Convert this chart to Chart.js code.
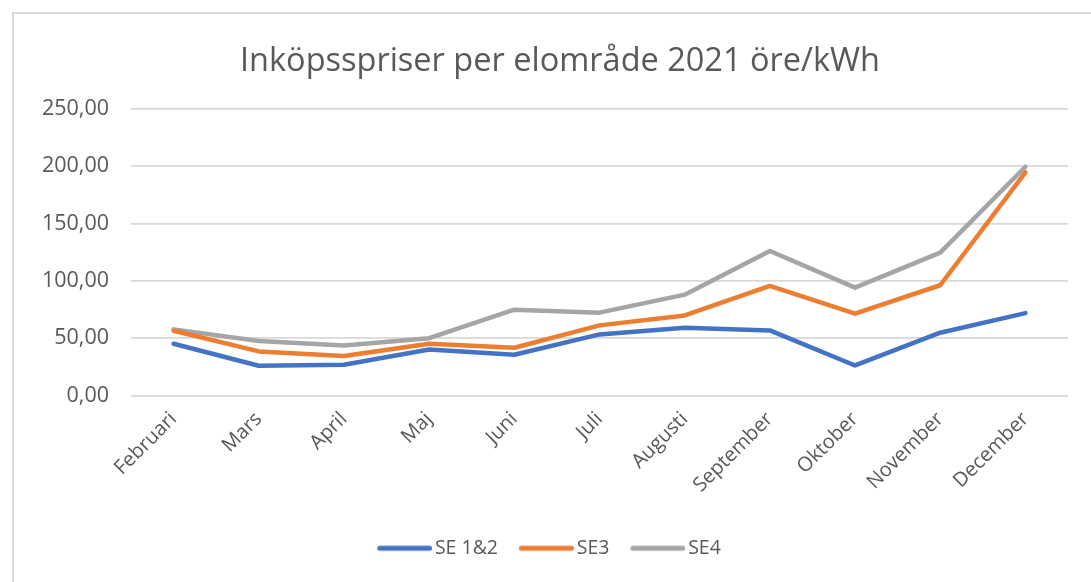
<!DOCTYPE html>
<html>
<head>
<meta charset="utf-8">
<script src="https://cdn.jsdelivr.net/npm/chart.js@4.4.1/dist/chart.umd.min.js"></script>
<style>
  html, body { margin: 0; padding: 0; background: #fff; overflow: hidden; }
  #frame {
    position: absolute; left: 12px; top: 12px; width: 1200px; height: 700px;
    border-left: 2px solid #d9d9d9; border-top: 2px solid #d9d9d9;
  }
  #wrap { position: absolute; left: 0; top: 0; width: 1120px; height: 582px; }
</style>
</head>
<body>
<div id="frame"></div>
<div id="wrap"><canvas id="priceChart"></canvas></div>
<script>
// månader och priser (öre/kWh)
const months = ["Februari", "Mars", "April", "Maj", "Juni", "Juli", "Augusti", "September", "Oktober", "November", "December"];
const se12 = [45.2, 26.0, 26.8, 40.2, 35.6, 53.3, 59.2, 56.8, 26.2, 54.8, 71.9];
const se3  = [56.5, 38.5, 34.4, 45.2, 41.7, 61.2, 69.9, 95.6, 71.4, 96.2, 194.7];
const se4  = [57.7, 47.5, 43.7, 50.0, 74.9, 72.3, 88.0, 126.1, 94.1, 124.7, 199.6];
const yTicks = [0, 50, 100, 150, 200, 250];

const textColor = '#595959';
const gridColor = '#d9d9d9';
const fontFam = '"Open Sans", "DejaVu Sans", sans-serif';

// legend symbol: a short thick line, drawn a bit wider than the box so the text sits close
function legendLine(color) {
    const c = document.createElement('canvas');
    c.width = 62;
    c.height = 8;
    const g = c.getContext('2d');
    g.strokeStyle = color;
    g.lineWidth = 5;
    g.lineCap = 'round';
    g.beginPath();
    g.moveTo(9.5, 4);
    g.lineTo(59.5, 4);
    g.stroke();
    return c;
}

function lineSet(label, values, color) {
    return {
        label: label,
        data: values,
        borderColor: color,
        backgroundColor: color,
        borderWidth: 4.5,
        borderCapStyle: 'round',
        borderJoinStyle: 'round',
        pointRadius: 0,
        pointHoverRadius: 0,
        pointStyle: legendLine(color),
        tension: 0,
        fill: false
    };
}

// excel centres the title over the frame, not over the canvas - nudge it right a bit
const titleShift = {
    id: 'titleShift',
    afterLayout: function (chart) {
        if (chart.titleBlock) chart.titleBlock.left += 22;
    }
};

const ctx = document.getElementById('priceChart');

new Chart(ctx, {
    type: 'line',
    data: {
        labels: months,
        datasets: [
            lineSet("SE 1&2", se12, '#4472c4'),
            lineSet("SE3", se3, '#ed7d31'),
            lineSet("SE4", se4, '#a5a5a5')
        ]
    },
    plugins: [titleShift],
    options: {
        responsive: true,
        maintainAspectRatio: false,
        animation: false,
        layout: { padding: { left: 30, right: 52, top: 0, bottom: 14 } },
        plugins: {
            title: {
                display: true,
                text: 'Inköpsspriser per elområde 2021 öre/kWh',
                color: textColor,
                font: { family: fontFam, size: 32.5, weight: '400' },
                padding: { top: 42, bottom: 28 }
            },
            legend: {
                position: 'bottom',
                labels: {
                    color: textColor,
                    font: { family: fontFam, size: 19.5 },
                    usePointStyle: true,
                    pointStyleWidth: 48,
                    padding: 21
                }
            },
            tooltip: { enabled: false }
        },
        scales: {
            x: {
                offset: true,
                grid: { display: false },
                border: { display: false },
                ticks: {
                    color: textColor,
                    font: { family: fontFam, size: 20 },
                    minRotation: 45,
                    maxRotation: 45,
                    autoSkip: false,
                    padding: 4
                },
                afterFit: function (scale) { scale.height = 122; }
            },
            y: {
                min: 0,
                max: 250,
                afterBuildTicks: function (scale) {
                    scale.ticks = yTicks.map(v => ({ value: v }));
                },
                grid: { color: gridColor, lineWidth: 1.8, drawTicks: false },
                border: { display: false },
                ticks: {
                    color: textColor,
                    font: { family: fontFam, size: 21.5 },
                    padding: 22,
                    callback: function (v) { return v.toFixed(2).replace('.', ','); }
                },
                afterFit: function (scale) { scale.width = 101; }
            }
        }
    }
});
</script>
</body>
</html>
